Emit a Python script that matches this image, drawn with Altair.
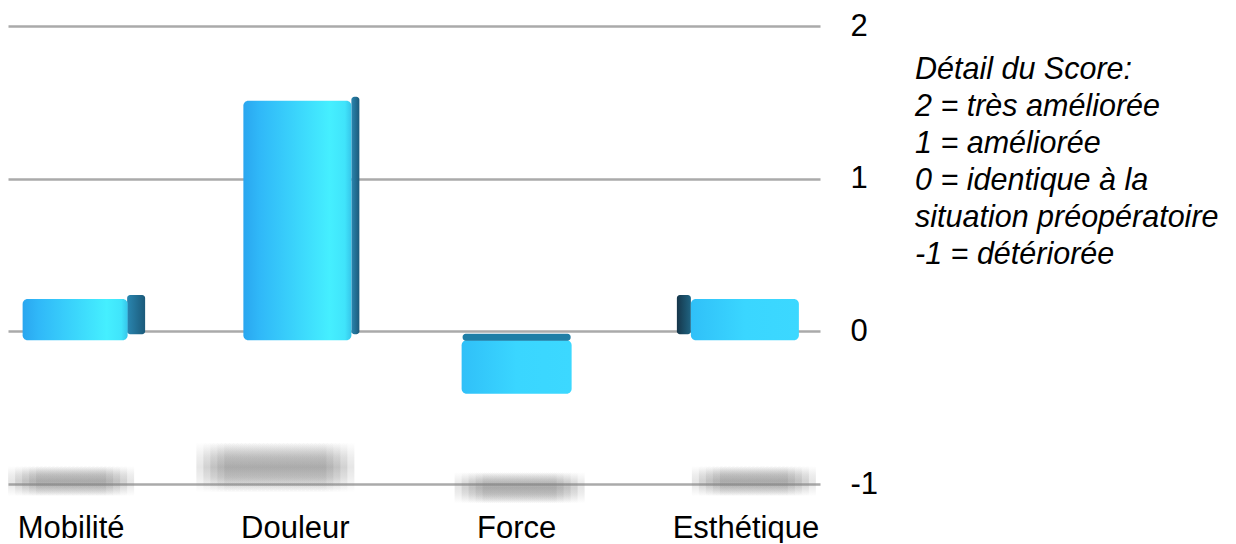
import altair as alt
import pandas as pd

categories = ["Mobilité", "Douleur", "Force", "Esthétique"]
scores = [0.27, 1.57, -0.35, 0.27]
y_ticks = [-1, 0, 1, 2]
legend_lines = [
    "Détail du Score:",
    "2  = très améliorée",
    "1  = améliorée",
    "0  = identique à la",
    "situation préopératoire",
    "-1 = détériorée",
]

df = pd.DataFrame({"cat": categories, "score": scores})

FONT = "Liberation Sans"
W, H = 812, 458
DEPTH = 9  # perspective offset of the front faces (px)

x_axis = alt.Axis(title=None, labelAngle=0, labelFontSize=31, labelFont=FONT,
                  labelColor="black", labelPadding=29, ticks=False, domain=False,
                  labelLimit=400, grid=False,
                  labelOffset={"condition": [
                      {"test": "datum.value === 'Mobilité'", "value": -11},
                      {"test": "datum.value === 'Esthétique'", "value": 0}],
                      "value": -8})
y_axis = alt.Axis(orient="right", values=y_ticks, title=None, labelFontSize=31,
                  labelFont=FONT, labelColor="black", labelPadding=30, ticks=False,
                  domain=False, grid=True, gridColor="#aaaaaa", gridWidth=2.5,
                  labelExpr="'' + datum.value")
x_scale = alt.Scale(paddingInner=0.45, paddingOuter=0.06)
y_scale = alt.Scale(domain=[-1, 2], nice=False, zero=False)


def X():
    return alt.X("cat:N", sort=categories, scale=x_scale, axis=x_axis)


def Y(field):
    return alt.Y(f"{field}:Q", scale=y_scale, axis=y_axis)


def lin(stops, vertical=False):
    if vertical:
        c = dict(x1=0, x2=0, y1=0, y2=1)
    else:
        c = dict(x1=0, x2=1, y1=0, y2=0)
    return alt.Gradient(gradient="linear",
                        stops=[alt.GradientStop(color=col, offset=o) for o, col in stops],
                        **c)


shadow_grad = lin([(0, "rgba(130,130,130,0)"), (0.3, "rgba(130,130,130,0.7)"),
                   (0.5, "rgba(130,130,130,1)"), (0.7, "rgba(130,130,130,0.7)"),
                   (1, "rgba(130,130,130,0)")], vertical=True)

base = alt.Chart(df).transform_calculate(zero="0")

shadow_base = base.transform_calculate(
    sc="-1 + 0.07 * datum.score",
    sh="0.085 + 0.05 * abs(datum.score)",
).transform_calculate(
    s_top="datum.sc + datum.sh",
    s_bot="datum.sc - datum.sh",
)

front_bright = lin([(0, "#2aa6ef"), (0.15, "#30b8f8"), (0.8, "#45efff"),
                    (0.94, "#40e4fb"), (1, "#36c6ea")])
front_flat = lin([(0, "#30c0f8"), (0.5, "#3ad6ff"), (1, "#3cd8ff")])
side_right = lin([(0, "#2a86b0"), (1, "#1b5a7a")])
side_left = lin([(0, "#16364a"), (1, "#1f6482")])

style = {
    "Mobilité": dict(fw=105, fdx=-7, fc=front_bright, sw=18, sdx=54, sc=side_right,
                     shw=126, shdx=-11),
    "Douleur": dict(fw=108, fdx=-6, fc=front_bright, sw=8, sdx=52, sc=side_right,
                    shw=158, shdx=-28),
    "Force": dict(fw=110, fdx=-8, fc=front_flat, sw=0, sdx=0, sc=None,
                  shw=130, shdx=-5),
    "Esthétique": dict(fw=108, fdx=-1, fc=front_flat, sw=14, sdx=-62, sc=side_left,
                       shw=124, shdx=8),
}

layers = []

# soft shadows on the floor
for cat in categories:
    s = style[cat]
    sub = shadow_base.transform_filter(alt.datum.cat == cat)
    for k in range(5):
        layers.append(sub.mark_bar(width=s["shw"] - 14 * k, xOffset=s["shdx"],
                                   color=shadow_grad, opacity=0.2).encode(
            x=X(), y=Y("s_top"), y2="s_bot:Q"))

# bars: side face, front face, top face
for cat in categories:
    s = style[cat]
    sub = base.transform_filter(alt.datum.cat == cat)
    if s["sw"] > 0:
        layers.append(sub.mark_bar(width=s["sw"], xOffset=s["sdx"],
                                   yOffset=DEPTH - 4, y2Offset=DEPTH - 6,
                                   cornerRadius=3, color=s["sc"]).encode(
            x=X(), y=Y("score"), y2="zero:Q"))
    layers.append(sub.mark_bar(width=s["fw"], xOffset=s["fdx"], yOffset=DEPTH,
                               y2Offset=DEPTH, cornerRadius=5, color=s["fc"]).encode(
        x=X(), y=Y("score"), y2="zero:Q"))
    if cat == "Force":
        layers.append(sub.mark_tick(orient="horizontal", size=s["fw"] - 2,
                                    thickness=7, xOffset=s["fdx"], yOffset=DEPTH - 3,
                                    cornerRadius=3, color="#1f7ea6", opacity=1).encode(
            x=X(), y=Y("zero")))

note = alt.Chart(pd.DataFrame({"a": [0]})).mark_text(
    text=legend_lines, align="left", baseline="alphabetic", font=FONT,
    fontStyle="italic", fontSize=30.5, lineHeight=37, color="black"
).encode(x=alt.value(907), y=alt.value(53))

chart = alt.layer(*layers, note).properties(
    width=W, height=H,
    padding={"left": 0, "top": 2, "right": 5, "bottom": 0},
    background="white",
).configure_view(stroke=None)

chart.save("out.html", embed_options={"renderer": "svg", "actions": False})
